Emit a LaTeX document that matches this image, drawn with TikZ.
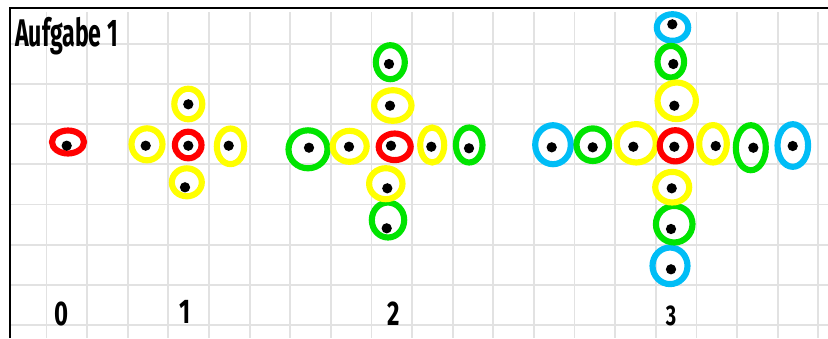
\documentclass[tikz,border=0pt]{standalone}
\usepackage{fontspec}
\setsansfont{Fira Sans}
\definecolor{pred}{HTML}{FF0000}
\definecolor{pyellow}{HTML}{FFFF00}
\definecolor{pgreen}{HTML}{00E400}
\definecolor{pcyan}{HTML}{00BDF6}
\definecolor{pgrid}{HTML}{E2E2E2}
\tikzset{
  gridline/.style={draw=pgrid, line width=1.3pt},
  frame/.style={draw=black, line width=1.4pt},
  ring/.style={line width=4.3pt},
  dot/.style={circle, fill=black, inner sep=0pt, minimum size=7.2pt},
  stage/.style={font=\sffamily\bfseries\fontsize{24}{24}\selectfont, xscale=0.7},
  heading/.style={font=\sffamily\bfseries\fontsize{27}{27}\selectfont, xscale=0.6, anchor=base west, inner sep=0pt}
}
\begin{document}
\begin{tikzpicture}[x=0.02463cm, y=-0.02463cm]
  \useasboundingbox (0,0) rectangle (828,338);
  % squared paper
  \foreach \k in {0,...,19}
    \draw[gridline] ({46.5+40.62*\k},12) -- ({46.5+40.62*\k},338);
  \foreach \k in {0,...,7}
    \draw[gridline] (11,{44+40.14*\k}) -- (828,{44+40.14*\k});
  \draw[frame] (10,338) -- (10,8) -- (828,8);

  \node[heading] (title) at (15,46.5) {Aufgabe 1};

  % rings: centre x / centre y / x radius / y radius / colour
  \foreach \cx/\cy/\rx/\ry/\col in {
      68/142/16/11.5/pred,
      188.2/145/13.3/13.3/pred, 188.3/104/14/15.3/pyellow, 147/144.3/15.5/16/pyellow,
      230.5/146.3/13.7/17.8/pyellow, 186.8/182.3/15/14/pyellow,
      390.3/62.2/14.5/17/pgreen, 308/149.3/19.5/19/pgreen, 469.2/145/13.3/17.5/pgreen,
      388/220/16.2/17.5/pgreen,
      394.7/146.8/16/13.3/pred, 392.8/105.5/18.7/15.3/pyellow, 349.7/146.3/17/15.5/pyellow,
      432.2/145/12/17.5/pyellow, 385.8/183.7/16.7/15.5/pyellow,
      672.5/27.5/15.7/13.3/pcyan, 553/144.7/17.8/19.5/pcyan, 792.8/145.5/15.3/21.3/pcyan,
      670/265.8/17.5/18.3/pcyan,
      670.8/61.7/13.3/15.8/pgreen, 592.8/144.7/16.3/16.3/pgreen, 750.8/147.7/15/22.5/pgreen,
      674.2/224.2/18.3/18.3/pgreen,
      676.7/100.8/19.2/18.3/pyellow, 636.3/143.3/19.5/19.2/pyellow, 713/143.8/13.8/18.7/pyellow,
      672.2/187.2/17/15.3/pyellow,
      675.3/145.8/15.6/15.6/pred}
    \draw[ring, draw=\col] (\cx,\cy) ellipse [x radius=\rx, y radius=\ry];

  % dots
  \foreach \n/\x/\y in {
      f0c/66.7/145.7,
      f1c/188.3/145.7, f1n/188.3/104.3, f1w/145.7/145.7, f1e/228.7/145.7, f1s/185/187.3,
      f2c/391/145.7, f2n1/390/105.7, f2n2/389/64, f2w1/349/146.7, f2w2/309/147.7,
      f2e1/431.3/146.7, f2e2/469/148.3, f2s1/387.3/188.3, f2s2/386.7/228.3,
      f3c/674.3/146.7, f3n1/674.3/105.7, f3n2/673.3/64, f3n3/672.3/24.3,
      f3w1/633.3/146.7, f3w2/592.7/147.3, f3w3/551.7/147.3,
      f3e1/715.7/146, f3e2/753.3/147.7, f3e3/792.7/146,
      f3s1/671.7/188.3, f3s2/671/229, f3s3/671/269.3}
    \node[dot] (\n) at (\x,\y) {};

  % stage numbers
  \node[stage] (s0) at (62,314) {0};
  \node[stage] (s1) at (185,312) {1};
  \node[stage] (s2) at (394,314) {2};
  \node[stage, font=\sffamily\bfseries\fontsize{20}{20}\selectfont] (s3) at (671,316) {3};
\end{tikzpicture}
\end{document}
